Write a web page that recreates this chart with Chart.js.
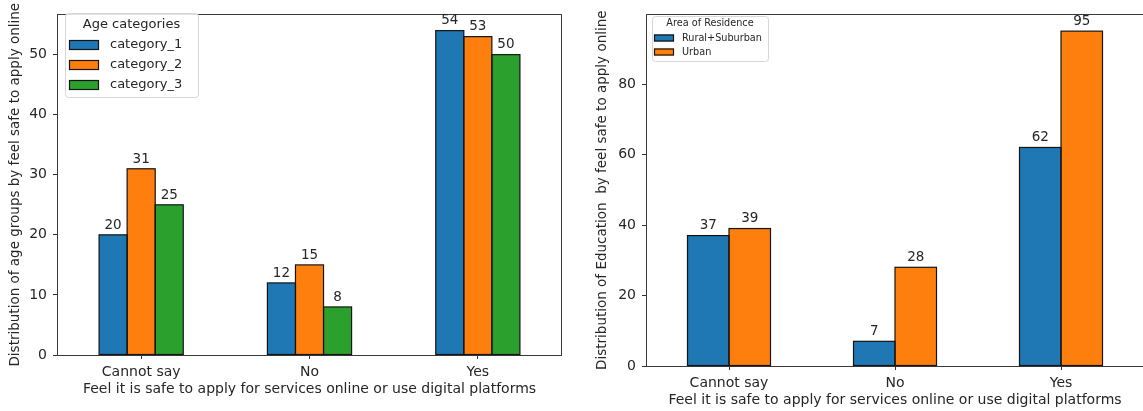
<!DOCTYPE html>
<html>
<head>
<meta charset="utf-8">
<script src="https://cdn.jsdelivr.net/npm/chart.js@4.4.1/dist/chart.umd.min.js"></script>
<style>
  html, body { margin: 0; padding: 0; background: #fff; overflow: hidden; }
  body { width: 1143px; height: 411px; position: relative; }
  .panel { position: absolute; top: 0; height: 411px; }
  #left { left: 0; width: 575px; }
  #right { left: 580px; width: 564px; }
</style>
</head>
<body>
<div class="panel" id="left"><canvas id="ageChart"></canvas></div>
<div class="panel" id="right"><canvas id="areaChart"></canvas></div>
<script>
// Answer categories shared by both panels
const answers = ['Cannot say', 'No', 'Yes'];

// Left panel: age groups
const ageLegendTitle = 'Age categories';
const ageSeriesNames = ['category_1', 'category_2', 'category_3'];
const ageCategory1 = [20, 12, 54];
const ageCategory2 = [31, 15, 53];
const ageCategory3 = [25, 8, 50];
const ageTicks = [0, 10, 20, 30, 40, 50];

// Right panel: area of residence
const areaLegendTitle = 'Area of Residence';
const areaSeriesNames = ['Rural+Suburban', 'Urban'];
const areaRuralSuburban = [37, 7, 62];
const areaUrban = [39, 28, 95];
const areaTicks = [0, 20, 40, 60, 80];

const xTitle = 'Feel it is safe to apply for services online or use digital platforms';
const ageYTitle = 'Distribution of age groups by feel safe to apply online';
const areaYTitle = 'Distribution of Education  by feel safe to apply online';

const palette = ['#1f77b4', '#ff7f0e', '#2ca02c'];
const edge = '#141414';
const ink = '#262626';
const FONT = "'DejaVu Sans', sans-serif";

// Axes frame on all four sides of the plot area
const framePlugin = {
  id: 'frame',
  afterDatasetsDraw(chart) {
    const {ctx, chartArea: a} = chart;
    ctx.save();
    ctx.strokeStyle = '#3a3a3a';
    ctx.lineWidth = 1;
    ctx.strokeRect(Math.round(a.left) + 0.5, Math.round(a.top) + 0.5,
                   Math.round(a.right - a.left) - 1, Math.round(a.bottom - a.top));
    ctx.restore();
  }
};

// Black outline around every bar, plus the value printed above it
const barDecorPlugin = {
  id: 'barDecor',
  afterDatasetsDraw(chart, args, opts) {
    const {ctx} = chart;
    ctx.save();
    ctx.strokeStyle = edge;
    ctx.lineWidth = 1.2;
    chart.data.datasets.forEach((ds, i) => {
      chart.getDatasetMeta(i).data.forEach(bar => {
        const l = bar.x - bar.width / 2, w = bar.width, t = bar.y, h = bar.base - bar.y;
        ctx.strokeRect(l, t, w, h);
      });
    });
    ctx.font = opts.size + 'px ' + FONT;
    ctx.fillStyle = ink;
    ctx.textAlign = 'center';
    ctx.textBaseline = 'bottom';
    chart.data.datasets.forEach((ds, i) => {
      chart.getDatasetMeta(i).data.forEach((bar, j) => {
        ctx.fillText(String(ds.data[j]), bar.x, bar.y - 3);
      });
    });
    ctx.restore();
  }
};

// Framed legend with a title, drawn inside the plot area
const boxLegendPlugin = {
  id: 'boxLegend',
  afterDraw(chart, args, o) {
    const {ctx} = chart;
    ctx.save();
    ctx.globalAlpha = 0.85;
    ctx.fillStyle = '#fff';
    ctx.strokeStyle = '#d0d0d0';
    ctx.lineWidth = 1;
    ctx.beginPath();
    ctx.roundRect(o.x + 0.5, o.y + 0.5, o.w, o.h, 3);
    ctx.fill();
    ctx.stroke();
    ctx.globalAlpha = 1;
    ctx.fillStyle = ink;
    ctx.font = o.titleSize + 'px ' + FONT;
    ctx.textAlign = 'center';
    ctx.textBaseline = 'middle';
    ctx.fillText(o.title, o.x + o.w / 2, o.titleY);
    ctx.textAlign = 'left';
    ctx.font = o.size + 'px ' + FONT;
    chart.data.datasets.forEach((ds, i) => {
      const cy = o.firstY + i * o.rowGap;
      ctx.fillStyle = ds.backgroundColor;
      ctx.fillRect(o.patchX, cy - o.patchH / 2, o.patchW, o.patchH);
      ctx.strokeStyle = edge;
      ctx.lineWidth = 1.2;
      ctx.strokeRect(o.patchX + 0.5, cy - o.patchH / 2 + 0.5, o.patchW - 1, o.patchH - 1);
      ctx.fillStyle = ink;
      ctx.fillText(ds.label, o.textX, cy);
    });
    ctx.restore();
  }
};

function makeDatasets(names, series) {
  return names.map((name, i) => ({
    label: name,
    data: series[i],
    backgroundColor: palette[i],
    borderWidth: 0,
    categoryPercentage: 0.5,
    barPercentage: 1.0
  }));
}

function buildChart(canvasId, cfg) {
  const allValues = cfg.series.flat();
  const yMax = Math.max(...allValues) * 1.05;
  return new Chart(document.getElementById(canvasId), {
    type: 'bar',
    data: { labels: answers, datasets: makeDatasets(cfg.names, cfg.series) },
    plugins: [framePlugin, barDecorPlugin, boxLegendPlugin],
    options: {
      responsive: true,
      maintainAspectRatio: false,
      animation: false,
      layout: { padding: cfg.padding },
      plugins: {
        legend: { display: false },
        tooltip: { enabled: false },
        barDecor: { size: 13.5 },
        boxLegend: cfg.legend
      },
      scales: {
        x: {
          offset: true,
          grid: { display: true, offset: false, drawOnChartArea: false, drawTicks: true,
                  tickLength: 4, color: '#333' },
          border: { display: false },
          ticks: { color: ink, font: { family: FONT, size: 14 }, padding: 5, maxRotation: 0 },
          title: { display: true, text: xTitle, color: ink,
                   font: { family: FONT, size: 14 }, padding: { top: 0, bottom: cfg.xTitlePad } },
          afterFit(scale) { scale.height = cfg.xHeight; }
        },
        y: {
          min: 0,
          max: yMax,
          afterBuildTicks(scale) { scale.ticks = cfg.ticks.map(v => ({ value: v })); },
          grid: { display: true, drawOnChartArea: false, drawTicks: true, tickLength: 4, color: '#333' },
          border: { display: false },
          ticks: { color: ink, font: { family: FONT, size: 14 }, padding: 6 },
          title: { display: true, text: cfg.yTitle, color: ink,
                   font: { family: FONT, size: 13.5 }, padding: { top: cfg.yTitlePad, bottom: 0 } },
          afterFit(scale) { scale.width = cfg.yWidth; }
        }
      }
    }
  });
}

buildChart('ageChart', {
  names: ageSeriesNames,
  series: [ageCategory1, ageCategory2, ageCategory3],
  ticks: ageTicks,
  yTitle: ageYTitle,
  padding: { top: 7, right: 13, left: 0, bottom: 0 },
  yWidth: 57, xHeight: 56, xTitlePad: 13, yTitlePad: 7,
  legend: { title: ageLegendTitle, x: 65, y: 13, w: 133, h: 84, titleSize: 13, size: 13,
            titleY: 25, firstY: 45, rowGap: 20, patchX: 69, patchW: 30, patchH: 10, textX: 110 }
});

buildChart('areaChart', {
  names: areaSeriesNames,
  series: [areaRuralSuburban, areaUrban],
  ticks: areaTicks,
  yTitle: areaYTitle,
  padding: { top: 11, right: 0, left: 0, bottom: 0 },
  yWidth: 66, xHeight: 45, xTitlePad: 2, yTitlePad: 14,
  legend: { title: areaLegendTitle, x: 72, y: 16, w: 116, h: 45, titleSize: 9.7, size: 9.7,
            titleY: 23, firstY: 38, rowGap: 14, patchX: 74, patchW: 20, patchH: 7, textX: 102 }
});
</script>
</body>
</html>
